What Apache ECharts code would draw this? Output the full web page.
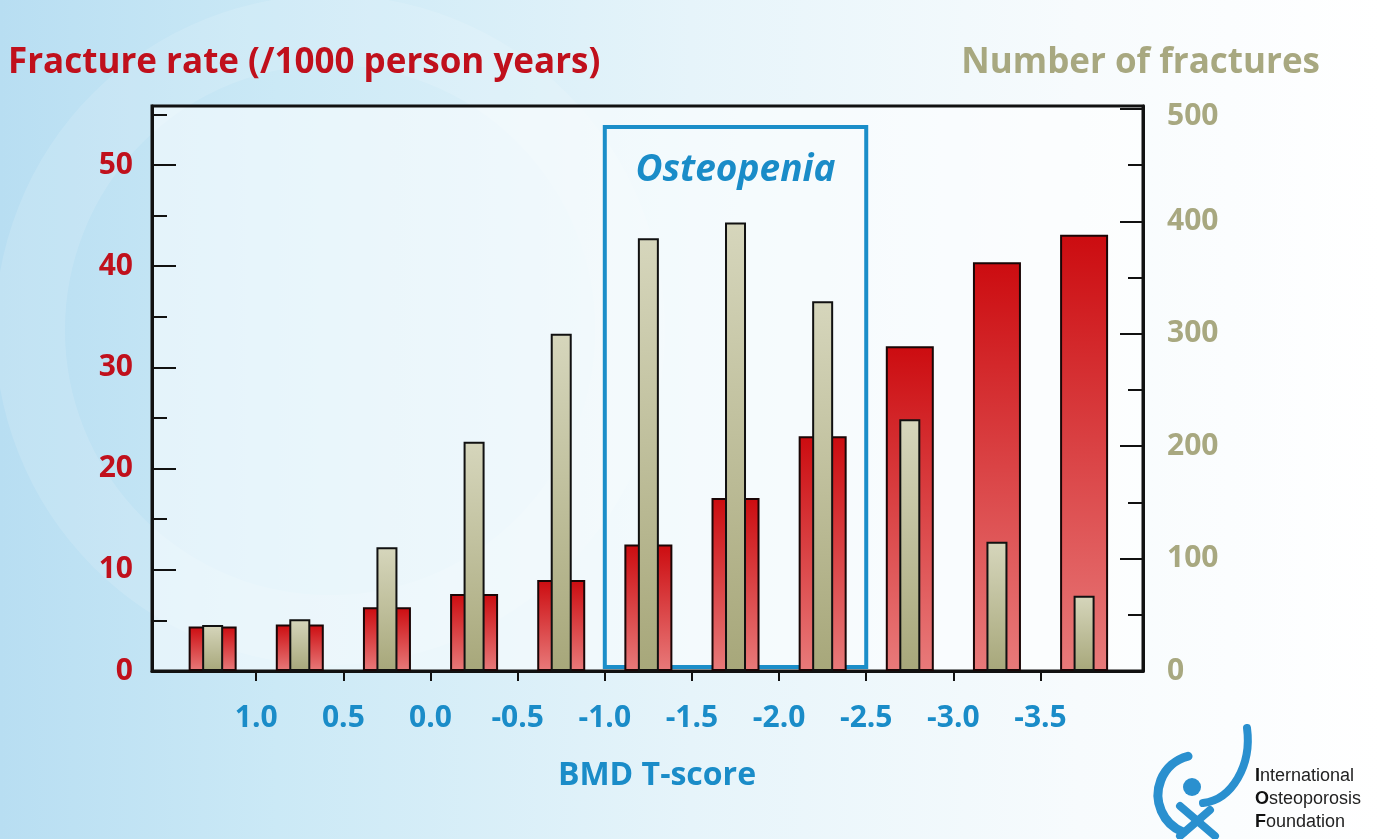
<!DOCTYPE html>
<html><head><meta charset="utf-8">
<script src="https://cdn.jsdelivr.net/npm/echarts@6/dist/echarts.min.js"></script>
<style>html,body{margin:0;padding:0;background:#fff}#c{width:1382px;height:839px}</style>
</head><body><div id="c"></div>
<script>
// ---- data ----
const tScoreCenters = [1.25, 0.75, 0.25, -0.25, -0.75, -1.25, -1.75, -2.25, -2.75, -3.25, -3.75];
const fractureRate = [4.4, 4.6, 6.3, 7.6, 9.0, 12.5, 17.1, 23.2, 32.1, 40.4, 43.1];
const fractureCount = [41, 46, 110, 204, 300, 385, 399, 329, 224, 115, 67];
const tScoreTicks = [1.0, 0.5, 0.0, -0.5, -1.0, -1.5, -2.0, -2.5, -3.0, -3.5];
const rateTicks = [0, 10, 20, 30, 40, 50];
const rateMinorTicks = [5, 15, 25, 35, 45, 55];
const countTicks = [0, 100, 200, 300, 400, 500];
const countMinorTicks = [50, 150, 250, 350, 450];
const osteopeniaRange = [-1.0, -2.5];

const FF = '"Open Sans", "Noto Sans", sans-serif';
const RED = '#c0101c', KHAKI = '#a8a880', BLUE = '#1a8cc8';
const X_MIN = -4.088, X_MAX = 1.598, RATE_MAX = 55.83, COUNT_MAX = 502.7;
const LOGO_FONT = 'Arial, "Liberation Sans", sans-serif';

const chart = echarts.init(document.getElementById('c'));

const redFill = {type:'linear', x:0, y:0, x2:0, y2:1, colorStops:[{offset:0,color:'#cc0c10'},{offset:1,color:'#e87a7a'}]};
const greyFill = {type:'linear', x:0, y:0, x2:0, y2:1, colorStops:[{offset:0,color:'#d6d6bc'},{offset:1,color:'#a7a77a'}]};

function logoLine(first, rest, y) {
  return {type:'text', z:10, x:1255, y:y, style:{text:'{b|' + first + '}{r|' + rest + '}', verticalAlign:'middle',
    rich:{b:{font:'bold 18px ' + LOGO_FONT, fill:'#111'}, r:{font:'18px ' + LOGO_FONT, fill:'#222'}}}};
}

const option = {
  animation: false,
  graphic: [
    {type:'rect', z:-100, silent:true, shape:{x:0,y:0,width:1382,height:839},
     style:{fill:{type:'linear',x:0,y:0,x2:1,y2:0,colorStops:[
       {offset:0,color:'#b8def2'},{offset:0.2,color:'#cbe9f6'},{offset:0.5,color:'#e6f4fa'},{offset:0.78,color:'#f7fbfd'},{offset:1,color:'#ffffff'}]}}},
    {type:'circle', z:-99, silent:true, shape:{cx:330, cy:330, r:300},
     style:{fill:'none', stroke:'rgba(255,255,255,0.13)', lineWidth:70}},
    {type:'text', z:10, x:8, y:63, style:{text:'Fracture rate (/1000 person years)', fill:RED, font:'bold 35px ' + FF, verticalAlign:'middle'}},
    {type:'text', z:10, x:1320, y:63, style:{text:'Number of fractures', fill:KHAKI, font:'bold 35px ' + FF, align:'right', verticalAlign:'middle'}},
    {type:'text', z:10, x:657, y:776, style:{text:'BMD T-score', fill:BLUE, font:'bold 32px ' + FF, align:'center', verticalAlign:'middle'}},
    // logo
    {type:'arc', z:10, shape:{cx:1198, cy:795, r:40, startAngle:Math.PI*0.62, endAngle:Math.PI*1.42}, style:{stroke:'#2a90cf', lineWidth:9, fill:'none', lineCap:'round'}},
    {type:'bezierCurve', z:10, shape:{x1:1203, y1:803, cpx1:1232, cpy1:800, cpx2:1252, cpy2:765, x2:1247, y2:728}, style:{stroke:'#2a90cf', lineWidth:8, fill:'none', lineCap:'round'}},
    {type:'circle', z:10, shape:{cx:1192, cy:787, r:9}, style:{fill:'#2a90cf'}},
    {type:'line', z:10, shape:{x1:1180, y1:806, x2:1215, y2:836}, style:{stroke:'#2a90cf', lineWidth:8, lineCap:'round'}},
    {type:'line', z:10, shape:{x1:1210, y1:810, x2:1180, y2:836}, style:{stroke:'#2a90cf', lineWidth:8, lineCap:'round'}},
    logoLine('I', 'nternational', 776),
    logoLine('O', 'steoporosis', 799),
    logoLine('F', 'oundation', 822)
  ],
  grid: {left:152, right:239, top:106, bottom:168, show:true, backgroundColor:'rgba(255,255,255,0.55)', borderColor:'#111', borderWidth:3},
  xAxis: [
    {type:'value', inverse:true, min:X_MIN, max:X_MAX, position:'bottom',
     axisLine:{show:true, onZero:false, lineStyle:{color:'#111', width:3}},
     axisTick:{show:true, inside:false, length:10, lineStyle:{color:'#111', width:2}, customValues:tScoreTicks},
     axisLabel:{customValues:tScoreTicks, formatter:v => v.toFixed(1), color:BLUE, fontSize:30, fontWeight:'bold', fontFamily:FF, margin:32},
     splitLine:{show:false}},
    {type:'value', inverse:true, min:X_MIN, max:X_MAX, show:false}
  ],
  yAxis: [
    {type:'value', min:0, max:RATE_MAX, position:'left',
     axisLine:{show:true, onZero:false, lineStyle:{color:'#111', width:3}},
     axisTick:{show:true, inside:true, length:24, lineStyle:{color:'#111', width:2}, customValues:rateTicks},
     axisLabel:{customValues:rateTicks, color:RED, fontSize:30, fontWeight:'bold', fontFamily:FF, margin:19},
     splitLine:{show:false}},
    {type:'value', min:0, max:RATE_MAX, position:'left',
     axisLine:{show:false, onZero:false}, axisLabel:{show:false}, splitLine:{show:false},
     axisTick:{show:true, inside:true, length:15, lineStyle:{color:'#111', width:2}, customValues:rateMinorTicks}},
    {type:'value', min:0, max:COUNT_MAX, position:'right',
     axisLine:{show:true, onZero:false, lineStyle:{color:'#111', width:3}},
     axisTick:{show:true, inside:true, length:23, lineStyle:{color:'#111', width:2}, customValues:countTicks},
     axisLabel:{customValues:countTicks, color:KHAKI, fontSize:30, fontWeight:'bold', fontFamily:FF, margin:24,
       formatter:v => v === 500 ? '{low|500}' : String(v),
       rich:{low:{color:KHAKI, fontSize:30, fontWeight:'bold', fontFamily:FF, padding:[14,0,0,0]}}},
     splitLine:{show:false}},
    {type:'value', min:0, max:COUNT_MAX, position:'right',
     axisLine:{show:false, onZero:false}, axisLabel:{show:false}, splitLine:{show:false},
     axisTick:{show:true, inside:true, length:15, lineStyle:{color:'#111', width:2}, customValues:countMinorTicks}}
  ],
  series: [
    {type:'bar', name:'Fracture rate', xAxisIndex:0, yAxisIndex:0, barWidth:48,
     data: tScoreCenters.map((x, i) => [x, fractureRate[i]]),
     itemStyle:{color:redFill, borderColor:'#1a0606', borderWidth:2},
     markArea:{silent:true,
       itemStyle:{color:'rgba(0,0,0,0)', borderColor:'#1b8ec9', borderWidth:4},
       label:{show:true, position:'insideTop', distance:27, color:BLUE, fontSize:37, fontWeight:'bold', fontStyle:'italic', fontFamily:FF},
       data:[[{name:'Osteopenia', xAxis:osteopeniaRange[0], yAxis:0.4}, {xAxis:osteopeniaRange[1], yAxis:53.75}]]}},
    {type:'bar', name:'Number of fractures', xAxisIndex:1, yAxisIndex:2, barWidth:21,
     data: tScoreCenters.map((x, i) => [x, fractureCount[i]]),
     itemStyle:{color:greyFill, borderColor:'#111', borderWidth:2}}
  ]
};
chart.setOption(option);
</script></body></html>
